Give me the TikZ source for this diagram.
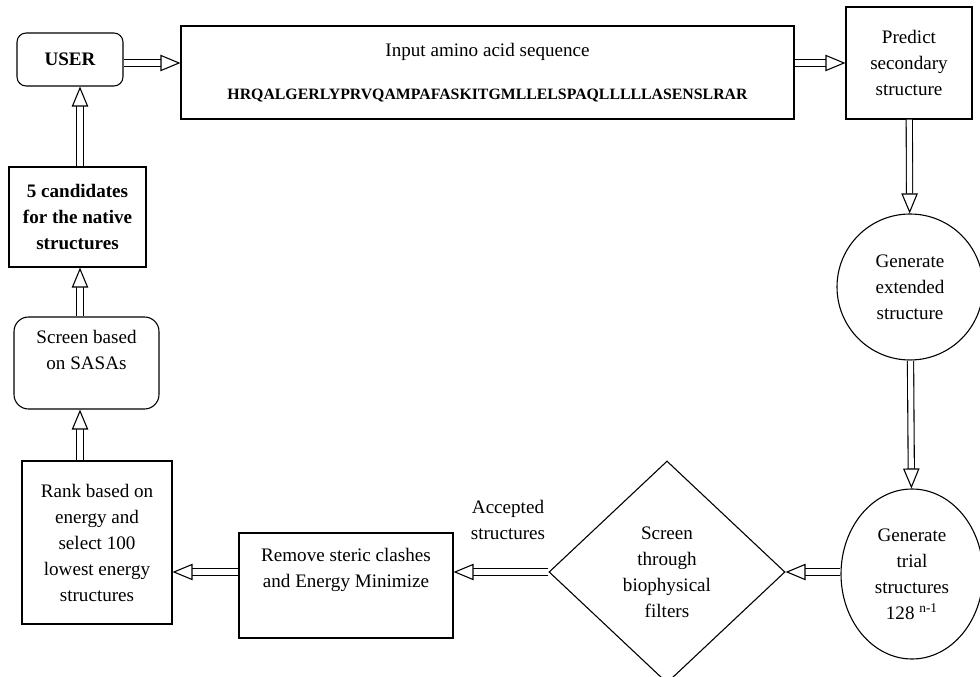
\documentclass[tikz,border=0pt]{standalone}
\usepackage{fontspec}
\setmainfont{Liberation Serif}
\usetikzlibrary{arrows.meta,shapes.geometric}

\begin{document}
\begin{tikzpicture}[x=0.55pt, y=-0.55pt, font=\fontsize{10.5}{14.3}\selectfont]

    \useasboundingbox (0,0) rectangle (980,677);

    % rows and lane the block arrows run along
    \coordinate (toprow) at (0,63);
    \coordinate (botrow) at (0,572);
    \coordinate (lane) at (80,0);

    \begin{scope}[every node/.style={draw,line width=0.6pt,align=center,inner sep=2pt}]
        \node[rounded corners=5pt, minimum width=58.3pt, minimum height=29.15pt,
              font=\fontsize{10.5}{14.3}\selectfont\bfseries] (user) at (70,59.5) {USER};
        \node[minimum width=337.15pt, minimum height=51.15pt] (input) at (487.5,72.5)
            {Input amino acid sequence\\[9pt]{\fontsize{8.7}{10}\selectfont\bfseries HRQALGERLYPRVQAMPAFASKITGMLLELSPAQLLLLLASENSLRAR}};
        \node[minimum width=69.3pt, minimum height=61.6pt] (predict) at (909,63) {Predict\\secondary\\structure};
        \node[circle, minimum size=80.3pt, inner sep=0pt] (ext) at (910,287) {Generate\\extended\\structure};
        \node[ellipse, minimum width=78.1pt, minimum height=93.5pt, inner sep=0pt] (trial) at (912,574)
            {Generate\\trial\\structures\\128 \textsuperscript{n-1}};
        \node[diamond, minimum width=129.8pt, minimum height=122.1pt, inner sep=0pt] (filter) at (667,572)
            {Screen\\through\\biophysical\\filters};
        \node[minimum width=117.7pt, minimum height=57.75pt] (remove) at (346,585.5)
            {Remove steric clashes\\and Energy Minimize\\[5pt]\mbox{}};
        \node[minimum width=82.5pt, minimum height=89.65pt] (rank) at (97,542.5)
            {Rank based on\\energy and\\select 100\\lowest energy\\structures};
        \node[rounded corners=8pt, minimum width=79.75pt, minimum height=50.6pt] (sasa) at (86.5,363)
            {Screen based\\on SASAs\\\mbox{}};
        \node[minimum width=75.35pt, minimum height=55pt,
              font=\fontsize{10.5}{14.3}\selectfont\bfseries] (cands) at (77.5,217)
            {5 candidates\\for the native\\structures};
    \end{scope}

    \node[align=center] (accepted) at (508,519.5) {Accepted\\structures};

    \begin{scope}[every edge/.style={draw,line width=0.6pt,double,double distance=2.8pt,
                  -{Triangle[open,fill=white,line width=0.6pt,length=11pt,width=9pt]}}]
        \path (user.east |- toprow) edge (input.west |- toprow);
        \path (input.east |- toprow) edge (predict.west |- toprow);
        \path (predict) edge (ext);
        \path (ext) edge (trial);
        \path (trial.west |- botrow) edge (filter.east);
        \path (filter.west) edge (remove.east |- botrow);
        \path (remove.west |- botrow) edge (rank.east |- botrow);
        \path (rank.north -| lane) edge (sasa.south -| lane);
        \path (sasa.north -| lane) edge (cands.south -| lane);
        \path (cands.north -| lane) edge (user.south -| lane);
    \end{scope}

\end{tikzpicture}
\end{document}
